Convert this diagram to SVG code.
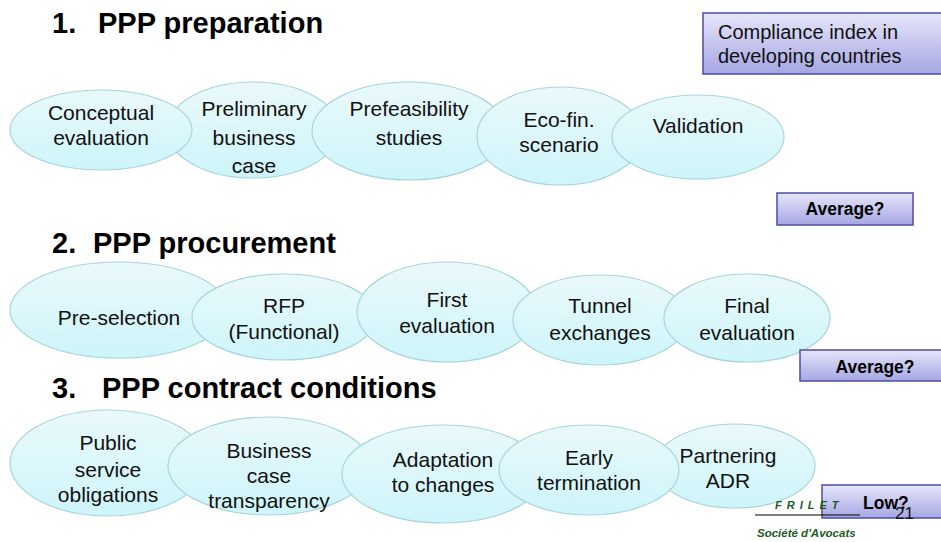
<svg xmlns="http://www.w3.org/2000/svg" width="941" height="542" viewBox="0 0 941 542">
<defs>
<linearGradient id="gEll" x1="0" y1="0" x2="0" y2="1">
<stop offset="0" stop-color="#eaf9fb"/>
<stop offset="1" stop-color="#cdf5fa"/>
</linearGradient>
<linearGradient id="gBox" x1="0" y1="0" x2="0" y2="1">
<stop offset="0" stop-color="#e6e6fa"/>
<stop offset="1" stop-color="#a6a6e4"/>
</linearGradient>
</defs>
<style>
.ell{fill:url(#gEll);stroke:#a9d5da;stroke-width:1.2}
.box{fill:url(#gBox);stroke:#4c4ca6;stroke-width:1.5}
.t{font-family:"Liberation Sans",Arial,sans-serif;font-size:21px;fill:#111;text-anchor:middle}
.h{font-family:"Liberation Sans",Arial,sans-serif;font-size:29px;font-weight:bold;fill:#000}
.b{font-family:"Liberation Sans",Arial,sans-serif;font-size:17.5px;font-weight:bold;fill:#000}
.cmp{font-family:"Liberation Sans",Arial,sans-serif;font-size:20px;fill:#111}
.fr{font-family:"Liberation Sans",Arial,sans-serif;font-weight:bold;font-style:italic;fill:#1d5a1d}
</style>

<g id="headings">
<text class="h" y="33"><tspan x="52">1.</tspan><tspan x="98">PPP preparation</tspan></text>
<text class="h" y="253"><tspan x="52">2.</tspan><tspan x="93">PPP procurement</tspan></text>
<text class="h" y="398"><tspan x="52">3.</tspan><tspan x="102">PPP contract conditions</tspan></text>
</g>

<g id="connectors"></g>

<!-- Row 1 -->
<g id="n-preliminary">
<ellipse class="ell" cx="253" cy="130" rx="86" ry="48"/>
<text class="t" x="254" y="116">Preliminary</text>
<text class="t" x="254" y="145">business</text>
<text class="t" x="254" y="173">case</text>
</g>
<g id="n-conceptual">
<ellipse class="ell" cx="101" cy="130" rx="91" ry="40"/>
<text class="t" x="101" y="120">Conceptual</text>
<text class="t" x="101" y="145">evaluation</text>
</g>
<g id="n-prefeasibility">
<ellipse class="ell" cx="409" cy="131" rx="97" ry="49"/>
<text class="t" x="409" y="116">Prefeasibility</text>
<text class="t" x="409" y="145">studies</text>
</g>
<g id="n-ecofin">
<ellipse class="ell" cx="560" cy="136" rx="83" ry="49"/>
<text class="t" x="559" y="127">Eco-fin.</text>
<text class="t" x="559" y="152">scenario</text>
</g>
<g id="n-validation">
<ellipse class="ell" cx="698" cy="137" rx="86" ry="42"/>
<text class="t" x="698" y="133">Validation</text>
</g>

<!-- Row 2 -->
<g id="n-preselection">
<ellipse class="ell" cx="119" cy="310" rx="109" ry="48"/>
<text class="t" x="119" y="325">Pre-selection</text>
</g>
<g id="n-rfp">
<ellipse class="ell" cx="284" cy="317" rx="92" ry="43"/>
<text class="t" x="284" y="313">RFP</text>
<text class="t" x="284" y="339">(Functional)</text>
</g>
<g id="n-first">
<ellipse class="ell" cx="447" cy="312" rx="90" ry="50"/>
<text class="t" x="447" y="307">First</text>
<text class="t" x="447" y="333">evaluation</text>
</g>
<g id="n-tunnel">
<ellipse class="ell" cx="600" cy="320" rx="87" ry="45"/>
<text class="t" x="600" y="313">Tunnel</text>
<text class="t" x="600" y="340">exchanges</text>
</g>
<g id="n-final">
<ellipse class="ell" cx="747" cy="318" rx="83" ry="44"/>
<text class="t" x="747" y="313">Final</text>
<text class="t" x="747" y="340">evaluation</text>
</g>

<!-- Row 3 -->
<g id="n-public">
<ellipse class="ell" cx="108" cy="463" rx="98" ry="53"/>
<text class="t" x="108" y="450">Public</text>
<text class="t" x="108" y="477">service</text>
<text class="t" x="108" y="502">obligations</text>
</g>
<g id="n-business">
<ellipse class="ell" cx="269" cy="466" rx="101" ry="49"/>
<text class="t" x="269" y="458">Business</text>
<text class="t" x="269" y="483">case</text>
<text class="t" x="269" y="508">transparency</text>
</g>
<g id="n-adaptation">
<ellipse class="ell" cx="443" cy="474" rx="101" ry="49"/>
<text class="t" x="443" y="467">Adaptation</text>
<text class="t" x="443" y="492">to changes</text>
</g>
<g id="n-partnering">
<ellipse class="ell" cx="735" cy="466" rx="80" ry="42"/>
<text class="t" x="728" y="463">Partnering</text>
<text class="t" x="728" y="488">ADR</text>
</g>
<g id="n-early">
<ellipse class="ell" cx="589" cy="470" rx="90" ry="45"/>
<text class="t" x="589" y="465">Early</text>
<text class="t" x="589" y="490">termination</text>
</g>

<!-- Boxes -->
<g id="compliance">
<rect class="box" x="703" y="13" width="250" height="61"/>
<text class="cmp" x="718" y="39">Compliance index in</text>
<text class="cmp" x="718" y="63">developing countries</text>
</g>
<g id="avg1">
<rect class="box" x="777" y="193" width="136" height="32"/>
<text class="b" x="845" y="215" text-anchor="middle">Average?</text>
</g>
<g id="avg2">
<rect class="box" x="800" y="350" width="150" height="31"/>
<text class="b" x="875" y="373" text-anchor="middle">Average?</text>
</g>
<g id="low">
<rect class="box" x="822" y="485" width="130" height="33"/>
<text class="b" x="863" y="509">Low?</text>
</g>

<g id="footer">
<text class="fr" x="775" y="509" font-size="11" letter-spacing="5">FRILET</text>
<line x1="755" y1="515" x2="860" y2="515" stroke="#000" stroke-width="1"/>
<text class="fr" x="757" y="537" font-size="11.5">Société d'Avocats</text>
<text x="895" y="519" font-family="Liberation Sans, Arial, sans-serif" font-size="17" fill="#111">21</text>
</g>
</svg>
